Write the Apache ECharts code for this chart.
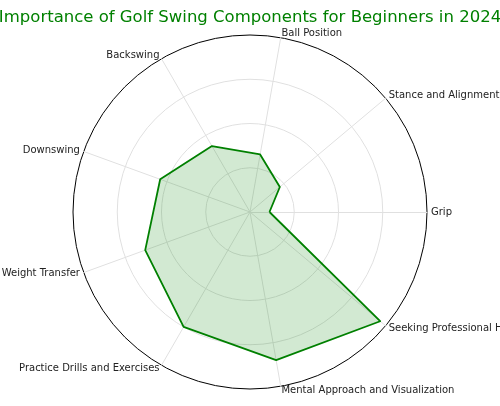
<!DOCTYPE html>
<html><head><meta charset="utf-8">
<script src="https://cdn.jsdelivr.net/npm/echarts@6/dist/echarts.min.js"></script>
<style>html,body{margin:0;padding:0;background:#fff}#c{width:500px;height:406px}</style>
</head><body><div id="c"></div>
<script>
const categories = ["Grip","Stance and Alignment","Ball Position","Backswing","Downswing","Weight Transfer","Practice Drills and Exercises","Mental Approach and Visualization","Seeking Professional Help"];
const values = [11, 22, 33, 43, 54, 63, 75, 85, 96];
const maxValue = 100;
const chart = echarts.init(document.getElementById('c'));
chart.setOption({
  animation:false,
  title:{text:"Importance of Golf Swing Components for Beginners in 2024",left:'center',top:4,
    textStyle:{color:'#008000',fontSize:16.5,fontWeight:'normal',fontFamily:'DejaVu Sans'}},
  radar:{
    center:[250,212], radius:177, startAngle:0, shape:'circle', splitNumber:4,
    indicator:categories.map(n=>({name:n,max:maxValue})),
    axisName:{color:'#222',fontSize:10,fontFamily:'DejaVu Sans'},
    nameGap:4,
    axisLine:{lineStyle:{color:'#e0e0e0'}},
    splitLine:{lineStyle:{color:['#e0e0e0','#e0e0e0','#e0e0e0','#e0e0e0','#000'],width:1}},
    splitArea:{show:false}
  },
  series:[{type:'radar',symbol:'none',
    lineStyle:{color:'#008000',width:1.8},
    areaStyle:{color:'rgba(0,128,0,0.25)'},
    data:[{value:values}]}]
});
</script></body></html>
